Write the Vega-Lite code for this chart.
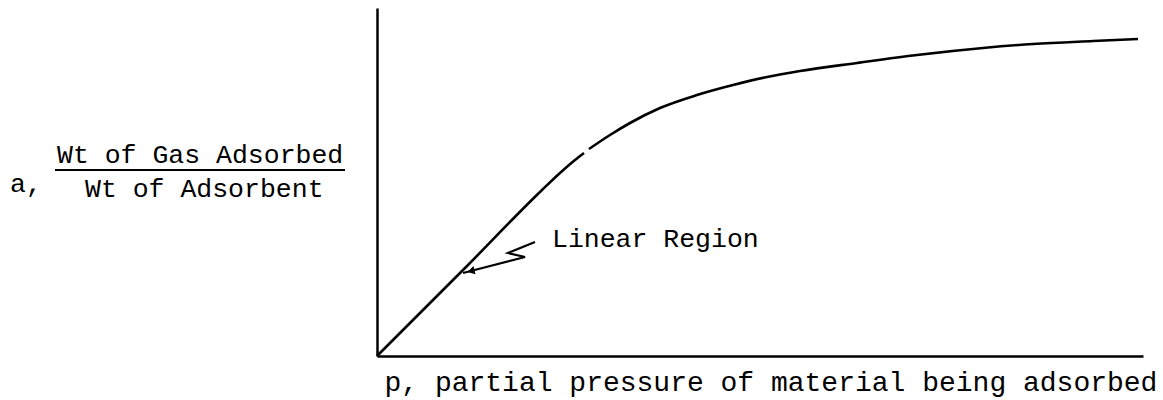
{
  "$schema": "https://vega.github.io/schema/vega-lite/v6.json",
  "width": 766,
  "height": 348,
  "autosize": {"type": "none"},
  "padding": {"left": 377, "top": 8, "right": 20, "bottom": 44},
  "background": "white",
  "config": {
    "view": {"stroke": null},
    "font": "Liberation Mono",
    "text": {"font": "Liberation Mono"}
  },
  "datasets": {
    "isotherm": [
      {"p": 0, "a": 0, "seg": 1},
      {"p": 90, "a": 90, "seg": 1},
      {"p": 165, "a": 166, "seg": 1},
      {"p": 183, "a": 183, "seg": 1},
      {"p": 198, "a": 196, "seg": 1},
      {"p": 207, "a": 203, "seg": 1},
      {"p": 212, "a": 207, "seg": 2},
      {"p": 233, "a": 221, "seg": 2},
      {"p": 253, "a": 233, "seg": 2},
      {"p": 283, "a": 248, "seg": 2},
      {"p": 320, "a": 261, "seg": 2},
      {"p": 356, "a": 271, "seg": 2},
      {"p": 390, "a": 279, "seg": 2},
      {"p": 423, "a": 285, "seg": 2},
      {"p": 480, "a": 293, "seg": 2},
      {"p": 540, "a": 301, "seg": 2},
      {"p": 606, "a": 308, "seg": 2},
      {"p": 656, "a": 312, "seg": 2},
      {"p": 716, "a": 315, "seg": 2},
      {"p": 761, "a": 317, "seg": 2}
    ],
    "pointer": [
      {"i": 0, "p": 158, "a": 114},
      {"i": 1, "p": 131, "a": 103},
      {"i": 2, "p": 148, "a": 99},
      {"i": 3, "p": 86, "a": 83}
    ],
    "pointerHead": [{"p": 94, "a": 85}],
    "fractionBar": [{"p": -322, "p2": -32, "a": 186}],
    "notes": [
      {"label": "a,", "p": -367, "a": 164},
      {"label": "Wt of Gas Adsorbed", "p": -320, "a": 193},
      {"label": "Wt of Adsorbent", "p": -292, "a": 159},
      {"label": "Linear Region", "p": 175, "a": 109}
    ]
  },
  "layer": [
    {
      "data": {"name": "isotherm"},
      "mark": {"type": "line", "color": "black", "strokeWidth": 2.6, "interpolate": "monotone"},
      "encoding": {
        "x": {
          "field": "p",
          "type": "quantitative",
          "scale": {"domain": [0, 766], "nice": false, "zero": false},
          "axis": {
            "domain": true,
            "domainColor": "black",
            "domainWidth": 2.5,
            "ticks": false,
            "labels": false,
            "grid": false,
            "title": "p, partial pressure of material being adsorbed",
            "titleFont": "Liberation Mono",
            "titleFontSize": 28,
            "titleFontWeight": "normal",
            "titleColor": "black",
            "titleAnchor": "start",
            "titleAlign": "left",
            "titleBaseline": "alphabetic",
            "titleX": 7,
            "titleY": 34
          }
        },
        "y": {
          "field": "a",
          "type": "quantitative",
          "scale": {"domain": [0, 348], "nice": false, "zero": false},
          "axis": {
            "domain": true,
            "domainColor": "black",
            "domainWidth": 2.5,
            "ticks": false,
            "labels": false,
            "grid": false,
            "title": null
          }
        },
        "detail": {"field": "seg", "type": "nominal"}
      }
    },
    {
      "data": {"name": "pointer"},
      "mark": {"type": "line", "color": "black", "strokeWidth": 2.2},
      "encoding": {
        "x": {"field": "p", "type": "quantitative"},
        "y": {"field": "a", "type": "quantitative"},
        "order": {"field": "i", "type": "quantitative"}
      }
    },
    {
      "data": {"name": "pointerHead"},
      "mark": {"type": "point", "shape": "triangle-left", "filled": true, "color": "black", "size": 70, "angle": -14, "opacity": 1},
      "encoding": {
        "x": {"field": "p", "type": "quantitative"},
        "y": {"field": "a", "type": "quantitative"}
      }
    },
    {
      "data": {"name": "fractionBar"},
      "mark": {"type": "rule", "color": "black", "strokeWidth": 2},
      "encoding": {
        "x": {"field": "p", "type": "quantitative"},
        "x2": {"field": "p2"},
        "y": {"field": "a", "type": "quantitative"}
      }
    },
    {
      "data": {"name": "notes"},
      "mark": {"type": "text", "align": "left", "baseline": "alphabetic", "fontSize": 26.5, "color": "black"},
      "encoding": {
        "x": {"field": "p", "type": "quantitative"},
        "y": {"field": "a", "type": "quantitative"},
        "text": {"field": "label", "type": "nominal"}
      }
    }
  ]
}
